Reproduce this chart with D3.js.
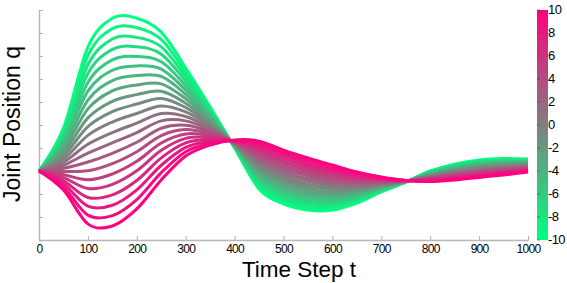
<!DOCTYPE html>
<html>
<head>
<meta charset="utf-8">
<script src="https://cdn.jsdelivr.net/npm/d3@7"></script>
<style>
body { margin: 0; background: #fff; }
svg text { font-family: "Liberation Sans", Arial, sans-serif; }
</style>
</head>
<body>
<div id="chart"></div>
<script>
var timeSteps = [0, 50, 100, 150, 200, 250, 300, 350, 400, 450, 500, 550, 600, 650, 700, 750, 800, 850, 900, 950, 1000];

// joint position for each value of the parameter (-10 green ... 10 pink)
var qNeg10 = [0, 1.87, 5.39, 6.64, 6.64, 6.04, 4.48, 2.78, 1.00, -0.78, -1.43, -1.70, -1.70, -1.39, -0.91, -0.48, 0, 0.30, 0.48, 0.54, 0.52];
var qNeg9  = [0, 1.74, 5.01, 6.19, 6.23, 5.72, 4.29, 2.70, 1.02, -0.68, -1.31, -1.59, -1.60, -1.32, -0.88, -0.48, -0.02, 0.27, 0.44, 0.50, 0.49];
var qNeg8  = [0, 1.60, 4.62, 5.74, 5.81, 5.40, 4.10, 2.62, 1.04, -0.57, -1.20, -1.47, -1.50, -1.26, -0.85, -0.47, -0.05, 0.23, 0.40, 0.47, 0.46];
var qNeg7  = [0, 1.47, 4.24, 5.29, 5.40, 5.08, 3.91, 2.53, 1.05, -0.47, -1.08, -1.36, -1.41, -1.19, -0.81, -0.47, -0.07, 0.20, 0.37, 0.43, 0.44];
var qNeg6  = [0, 1.33, 3.85, 4.83, 4.98, 4.75, 3.71, 2.45, 1.07, -0.36, -0.96, -1.25, -1.31, -1.12, -0.78, -0.47, -0.09, 0.16, 0.33, 0.40, 0.41];
var qNeg5  = [0, 1.20, 3.47, 4.38, 4.57, 4.43, 3.52, 2.37, 1.09, -0.26, -0.85, -1.13, -1.21, -1.05, -0.75, -0.46, -0.12, 0.13, 0.29, 0.36, 0.38];
var qNeg4  = [0, 1.06, 3.08, 3.93, 4.15, 4.11, 3.33, 2.29, 1.11, -0.16, -0.73, -1.02, -1.11, -0.99, -0.72, -0.46, -0.14, 0.09, 0.25, 0.33, 0.35];
var qNeg3  = [0, 0.93, 2.70, 3.48, 3.74, 3.79, 3.14, 2.20, 1.12, -0.05, -0.61, -0.91, -1.01, -0.92, -0.68, -0.46, -0.16, 0.06, 0.21, 0.29, 0.32];
var qNeg2  = [0, 0.79, 2.31, 3.03, 3.32, 3.47, 2.95, 2.12, 1.14, 0.05, -0.49, -0.79, -0.92, -0.85, -0.65, -0.45, -0.18, 0.02, 0.18, 0.26, 0.30];
var qNeg1  = [0, 0.66, 1.93, 2.58, 2.91, 3.15, 2.76, 2.04, 1.16, 0.16, -0.38, -0.68, -0.82, -0.78, -0.62, -0.45, -0.21, -0.01, 0.14, 0.22, 0.27];
var q0     = [0, 0.52, 1.55, 2.13, 2.50, 2.83, 2.57, 1.96, 1.18, 0.26, -0.26, -0.57, -0.72, -0.72, -0.59, -0.45, -0.23, -0.05, 0.10, 0.19, 0.24];
var qPos1  = [0, 0.39, 1.16, 1.67, 2.08, 2.50, 2.37, 1.87, 1.19, 0.36, -0.14, -0.45, -0.62, -0.65, -0.55, -0.44, -0.25, -0.08, 0.06, 0.15, 0.21];
var qPos2  = [0, 0.25, 0.78, 1.22, 1.67, 2.18, 2.18, 1.79, 1.21, 0.47, -0.03, -0.34, -0.52, -0.58, -0.52, -0.44, -0.28, -0.11, 0.02, 0.11, 0.18];
var qPos3  = [0, 0.12, 0.39, 0.77, 1.25, 1.86, 1.99, 1.71, 1.23, 0.57, 0.09, -0.22, -0.43, -0.51, -0.49, -0.43, -0.30, -0.15, -0.01, 0.08, 0.16];
var qPos4  = [0, -0.02, 0.01, 0.32, 0.84, 1.54, 1.80, 1.62, 1.25, 0.68, 0.21, -0.11, -0.33, -0.45, -0.46, -0.43, -0.32, -0.18, -0.05, 0.04, 0.13];
var qPos5  = [0, -0.16, -0.38, -0.13, 0.42, 1.22, 1.61, 1.54, 1.26, 0.78, 0.33, 0.00, -0.23, -0.38, -0.42, -0.43, -0.35, -0.22, -0.09, 0.01, 0.10];
var qPos6  = [0, -0.29, -0.76, -0.58, 0.01, 0.90, 1.42, 1.46, 1.28, 0.88, 0.44, 0.12, -0.13, -0.31, -0.39, -0.42, -0.37, -0.25, -0.13, -0.03, 0.07];
var qPos7  = [0, -0.43, -1.15, -1.04, -0.41, 0.57, 1.22, 1.38, 1.30, 0.99, 0.56, 0.23, -0.03, -0.24, -0.36, -0.42, -0.39, -0.29, -0.17, -0.06, 0.04];
var qPos8  = [0, -0.56, -1.53, -1.49, -0.82, 0.25, 1.03, 1.30, 1.32, 1.09, 0.68, 0.34, 0.06, -0.18, -0.33, -0.42, -0.41, -0.32, -0.20, -0.10, 0.02];
var qPos9  = [0, -0.70, -1.92, -1.94, -1.24, -0.07, 0.84, 1.21, 1.33, 1.20, 0.79, 0.46, 0.16, -0.11, -0.29, -0.41, -0.44, -0.36, -0.24, -0.13, -0.01];
var qPos10 = [0, -0.83, -2.30, -2.39, -1.65, -0.39, 0.65, 1.13, 1.35, 1.30, 0.91, 0.57, 0.26, -0.04, -0.26, -0.41, -0.46, -0.39, -0.28, -0.17, -0.04];

var params = [-10, -9, -8, -7, -6, -5, -4, -3, -2, -1, 0, 1, 2, 3, 4, 5, 6, 7, 8, 9, 10];
var series = [qNeg10, qNeg9, qNeg8, qNeg7, qNeg6, qNeg5, qNeg4, qNeg3, qNeg2, qNeg1, q0,
              qPos1, qPos2, qPos3, qPos4, qPos5, qPos6, qPos7, qPos8, qPos9, qPos10];

var xTicks = [0, 100, 200, 300, 400, 500, 600, 700, 800, 900, 1000];
var yTicks = [-3, -2, -1, 0, 1, 2, 3, 4, 5, 6, 7];
var cbTicks = [-10, -8, -6, -4, -2, 0, 2, 4, 6, 8, 10];

var width = 567,
    height = 283;

var svg = d3.select("#chart")
    .append("svg")
    .attr("width", width)
    .attr("height", height);

var x = d3.scaleLinear().domain([0, 1000]).range([39, 528]);
var y = d3.scaleLinear().domain([-3, 7]).range([240, 10]);

// colour goes from green at -10 to pink at 10
var color = d3.scaleLinear().domain([-10, 10]).range(["#00ff80", "#ff0080"]);

// axes, light grey with inward ticks
var xAxis = svg.append("g")
    .attr("transform", "translate(0,240)")
    .call(d3.axisBottom(x).tickValues(xTicks).tickFormat(d3.format("d"))
          .tickSizeInner(-4).tickSizeOuter(0).tickPadding(4));
var yAxis = svg.append("g")
    .attr("transform", "translate(39,0)")
    .call(d3.axisLeft(y).tickValues(yTicks).tickSizeInner(-4).tickSizeOuter(0).tickFormat(""));

[xAxis, yAxis].forEach(function(a) {
    a.select(".domain").attr("stroke", "#b8b8b8").attr("stroke-width", 1.5);
    a.selectAll(".tick line").attr("stroke", "#b0b0b0").attr("stroke-width", 1);
});
xAxis.selectAll("text")
    .attr("font-size", 12)
    .attr("fill", "#000")
    .style("letter-spacing", "-0.7px");

// the curves, green first so pink sits on top
var line = d3.line()
    .x(function(d, i) { return x(timeSteps[i]); })
    .y(function(d) { return y(d); })
    .curve(d3.curveCatmullRom.alpha(0));

svg.selectAll(".curve")
    .data(series)
    .enter()
    .append("path")
    .attr("class", "curve")
    .attr("d", function(d) { return line(d); })
    .attr("fill", "none")
    .attr("stroke", function(d, i) { return color(params[i]); })
    .attr("stroke-width", 3);

// axis titles
svg.append("text")
    .attr("x", 299)
    .attr("y", 276.5)
    .attr("text-anchor", "middle")
    .attr("font-size", 22.5)
    .text("Time Step t");

svg.append("text")
    .attr("transform", "translate(20,124) rotate(-90)")
    .attr("text-anchor", "middle")
    .attr("font-size", 23)
    .text("Joint Position q");

// colour bar
var defs = svg.append("defs");
var grad = defs.append("linearGradient")
    .attr("id", "cb")
    .attr("x1", 0).attr("y1", 1)
    .attr("x2", 0).attr("y2", 0);
grad.append("stop").attr("offset", "0%").attr("stop-color", color(-10));
grad.append("stop").attr("offset", "50%").attr("stop-color", color(0));
grad.append("stop").attr("offset", "100%").attr("stop-color", color(10));

var cb = d3.scaleLinear().domain([-10, 10]).range([240, 10]);

svg.append("rect")
    .attr("x", 537)
    .attr("y", 10)
    .attr("width", 11)
    .attr("height", 230)
    .attr("fill", "url(#cb)");

svg.selectAll(".cbtick")
    .data(cbTicks)
    .enter()
    .append("line")
    .attr("x1", 537).attr("x2", 540)
    .attr("y1", function(d) { return cb(d); })
    .attr("y2", function(d) { return cb(d); })
    .attr("stroke", "#333")
    .attr("stroke-opacity", 0.5);

svg.selectAll(".cblabel")
    .data(cbTicks)
    .enter()
    .append("text")
    .attr("x", 548)
    .attr("y", function(d) { return cb(d) + 3.5; })
    .attr("font-size", 13)
    .style("letter-spacing", "-0.6px")
    .text(function(d) { return d; });
</script>
</body>
</html>
